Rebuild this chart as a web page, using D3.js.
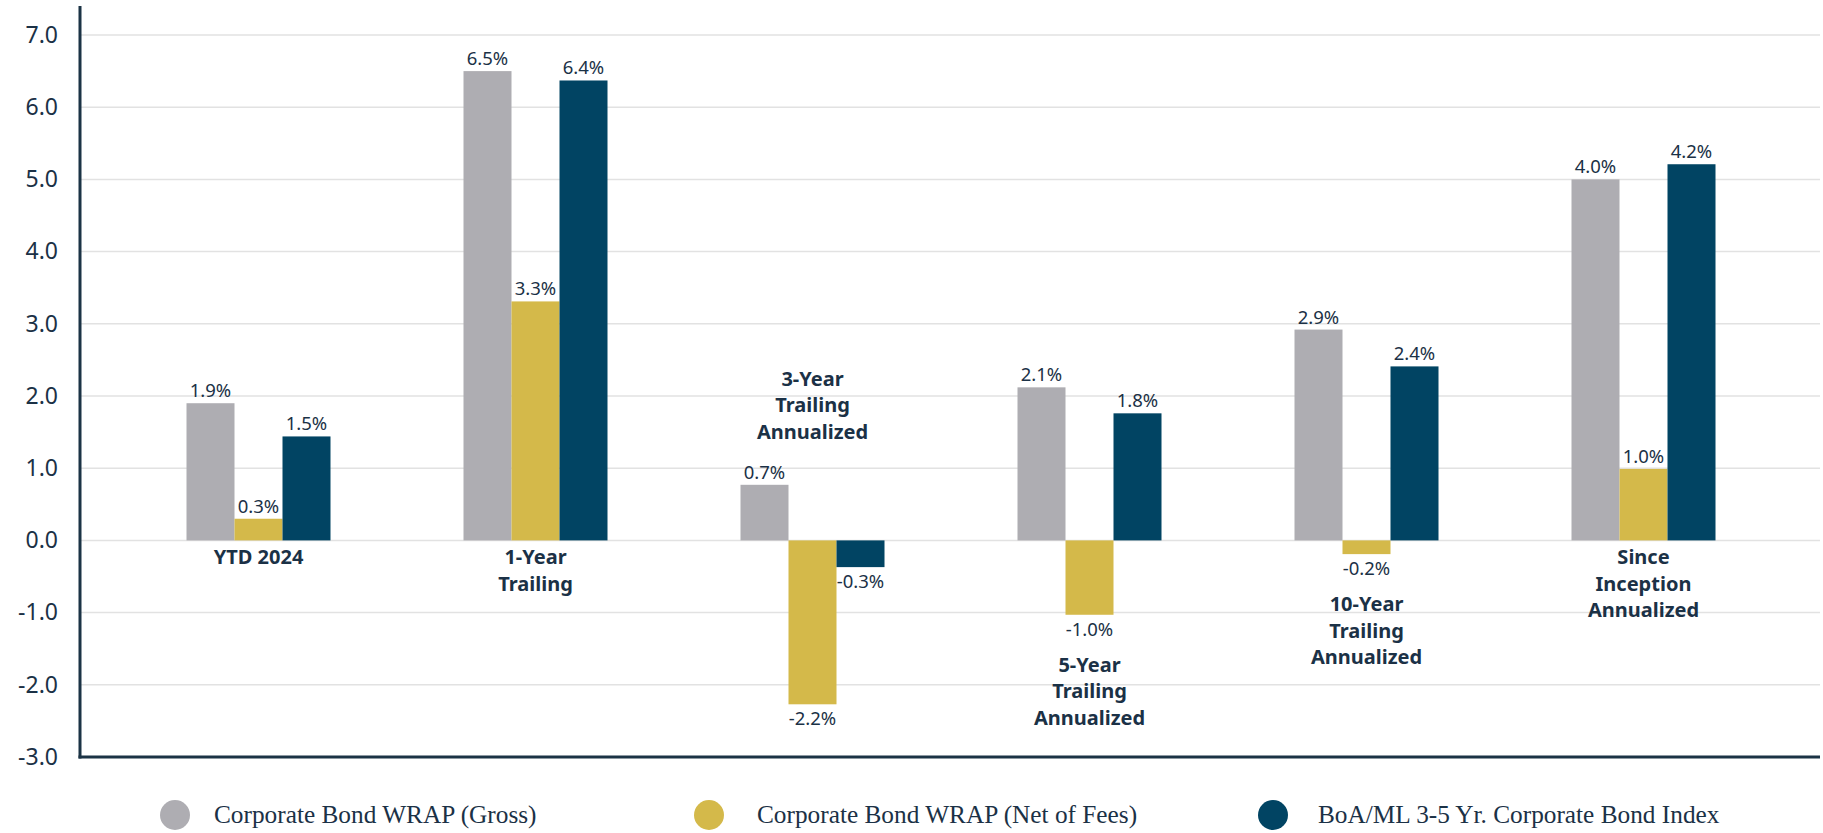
<!DOCTYPE html>
<html>
<head>
<meta charset="utf-8">
<script src="https://cdn.jsdelivr.net/npm/d3@7"></script>
<style>
html,body{margin:0;padding:0;background:#fff;}
svg{display:block;}
</style>
</head>
<body>
<svg id="chart" width="1823" height="833"></svg>
<script>
const categories = ["YTD 2024","1-Year Trailing","3-Year Trailing Annualized","5-Year Trailing Annualized","10-Year Trailing Annualized","Since Inception Annualized"];
const categoryLines = [["YTD 2024"],["1-Year","Trailing"],["3-Year","Trailing","Annualized"],["5-Year","Trailing","Annualized"],["10-Year","Trailing","Annualized"],["Since","Inception","Annualized"]];
const categoryLabelSide = ["below","below","above","below","below","below"];
const seriesNames = ["Corporate Bond WRAP (Gross)","Corporate Bond WRAP (Net of Fees)","BoA/ML 3-5 Yr. Corporate Bond Index"];
const grossValues = [1.90, 6.50, 0.77, 2.12, 2.92, 5.00];
const netValues   = [0.30, 3.31, -2.27, -1.03, -0.19, 0.99];
const indexValues = [1.44, 6.37, -0.37, 1.76, 2.41, 5.21];
const grossLabels = ["1.9%","6.5%","0.7%","2.1%","2.9%","4.0%"];
const netLabels   = ["0.3%","3.3%","-2.2%","-1.0%","-0.2%","1.0%"];
const indexLabels = ["1.5%","6.4%","-0.3%","1.8%","2.4%","4.2%"];
const yTicks = [7,6,5,4,3,2,1,0,-1,-2,-3];
const colors = ["#aeadb2","#d4b94a","#014463"];

(function(){
const svg = d3.select("#chart");
const pLeft = 80, pRight = 1820, pTop = 35, pBottom = 757;
const y = d3.scaleLinear().domain([-3,7]).range([pBottom, pTop]);
const x = d3.scalePoint().domain(categories).range([120,1782]).padding(0.5);
const sub = d3.scaleBand().domain([0,1,2]).range([-72,72]);

const values = [grossValues, netValues, indexValues];
const labels = [grossLabels, netLabels, indexLabels];
const textColor = "#1b3146";
const sans = "'Noto Sans', 'Open Sans', sans-serif";

svg.append("g").selectAll("line").data(yTicks.filter(t => t > -3)).join("line")
  .attr("x1", pLeft).attr("x2", pRight)
  .attr("y1", d => y(d)).attr("y2", d => y(d))
  .attr("stroke", "#e2e2e2").attr("stroke-width", 1.5);

const fmt = d => d.toFixed(1);
const yAxis = d3.axisLeft(y).tickValues(yTicks).tickFormat(fmt).tickSize(0).tickPadding(22);
const ya = svg.append("g").attr("transform", `translate(${pLeft},0)`).call(yAxis);
ya.select(".domain").remove();
ya.selectAll("text").attr("font-family", sans).attr("font-size", 23).attr("fill", textColor);

const bars = svg.append("g");
categories.forEach((c, i) => {
  values.forEach((vals, s) => {
    const v = vals[i];
    bars.append("rect")
      .attr("x", x(c) + sub(s))
      .attr("width", sub.bandwidth())
      .attr("y", y(Math.max(0, v)))
      .attr("height", Math.abs(y(v) - y(0)))
      .attr("fill", colors[s]);
    bars.append("text")
      .attr("x", x(c) + sub(s) + sub.bandwidth()/2)
      .attr("y", v >= 0 ? y(v) - 6 : y(v) + 21)
      .attr("text-anchor", "middle")
      .attr("font-family", sans).attr("font-size", 18.5)
      .attr("fill", textColor)
      .text(labels[s][i]);
  });
});

const lh = 26.5;
categories.forEach((c, i) => {
  const vs = values.map(v => v[i]);
  const mn = Math.min(...vs), mx = Math.max(...vs);
  const lines = categoryLines[i];
  let first;
  if (categoryLabelSide[i] === "above") {
    first = y(mx) - 46 - lh * (lines.length - 1);
  } else if (mn < 0) {
    first = y(mn) + 57;
  } else {
    first = y(0) + 24;
  }
  const t = svg.append("text")
    .attr("text-anchor", "middle")
    .attr("font-family", sans).attr("font-size", 20).attr("font-weight", "bold")
    .attr("fill", textColor);
  lines.forEach((l, k) => {
    t.append("tspan").attr("x", x(c)).attr("y", first + k * lh).text(l);
  });
});

svg.append("line").attr("x1", pLeft).attr("x2", pLeft).attr("y1", 6).attr("y2", pBottom + 1.5)
  .attr("stroke", "#1b3345").attr("stroke-width", 3);
svg.append("line").attr("x1", pLeft - 1.5).attr("x2", pRight).attr("y1", pBottom).attr("y2", pBottom)
  .attr("stroke", "#1b3345").attr("stroke-width", 3);

const legendX = [175, 709, 1273];
const legendTextX = [214, 757, 1318];
const lg = svg.append("g");
seriesNames.forEach((n, s) => {
  lg.append("circle").attr("cx", legendX[s]).attr("cy", 815).attr("r", 15).attr("fill", colors[s]);
  lg.append("text").attr("x", legendTextX[s]).attr("y", 823)
    .attr("font-family", "'Liberation Serif', 'DejaVu Serif', serif")
    .attr("font-size", 25.3).attr("fill", textColor).text(n);
});
})();
</script>
</body>
</html>
